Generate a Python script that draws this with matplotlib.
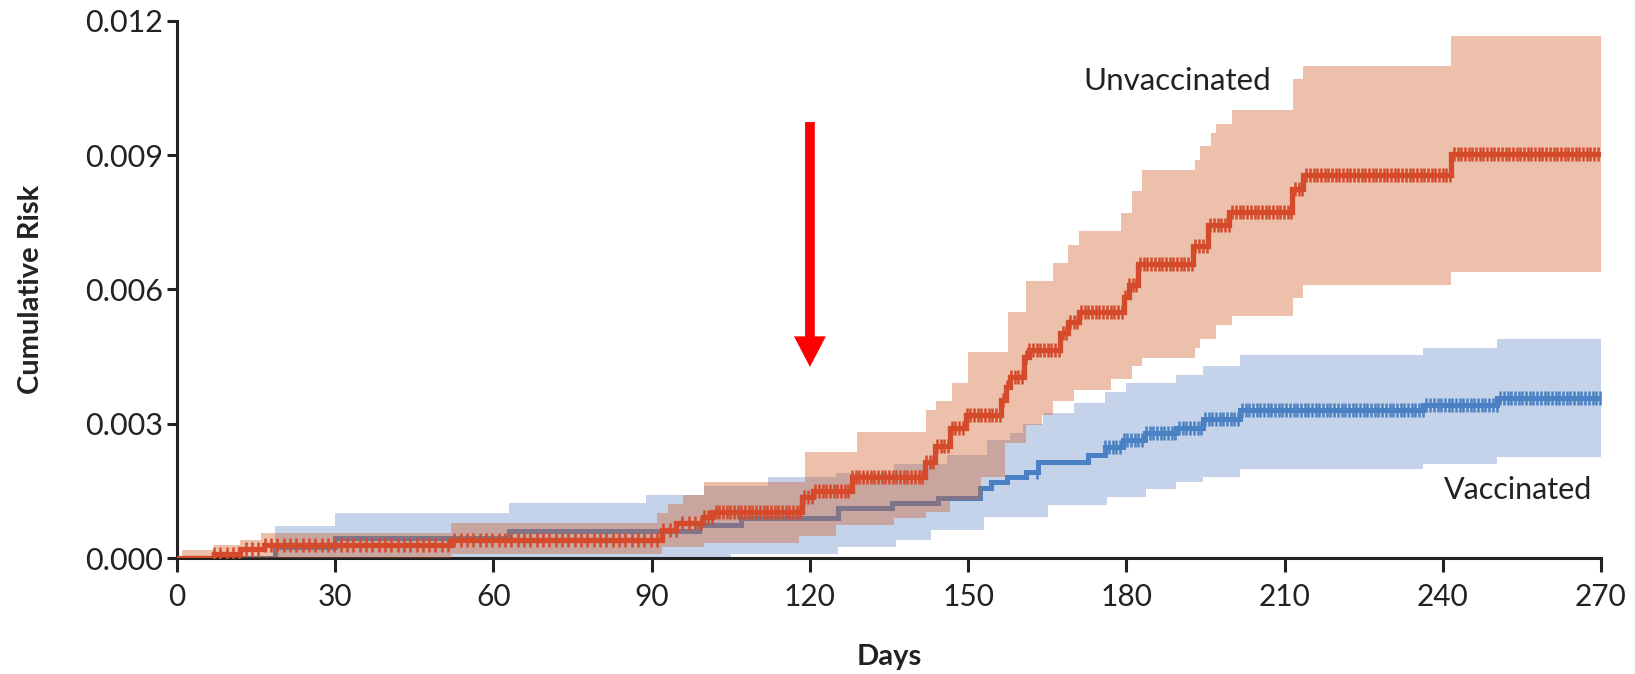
import numpy as np
import matplotlib.pyplot as plt

plt.rcParams['font.family'] = ['Lato', 'DejaVu Sans']

# ---- Unvaccinated: step change days and cumulative risk ----
unvax_days = [0, 7, 12, 16.4, 52, 92, 94.7, 99.8, 101.5, 118.5,
              120.5, 128, 141.8, 143.8, 146.5, 149.5, 156.2, 157.2, 158, 160.5,
              161.5, 167.5, 169, 171, 179.5, 180.5, 182.3, 192.7, 195.5, 199.5,
              211.5, 213.5, 241.5, 270]
unvax_risk = [0, 0.0001, 0.0002, 0.0003, 0.0004, 0.00063, 0.00078, 0.00092, 0.00103, 0.00137,
              0.0015, 0.00182, 0.00215, 0.0025, 0.0029, 0.0032, 0.00353, 0.00383, 0.00405, 0.0045,
              0.00465, 0.00502, 0.00528, 0.0055, 0.00584, 0.0061, 0.00658, 0.00697, 0.00744, 0.00772,
              0.00824, 0.00856, 0.00902, 0.00902]

unvax_hi_days = [0, 1, 7, 12, 16, 52, 91, 93, 96, 100,
                 119, 129, 142, 144, 147, 150, 157.5, 161, 166, 169,
                 171, 179, 181, 183, 193, 194, 196, 197, 200, 211.6,
                 213.5, 241.6, 270]
unvax_hi = [0, 0.00018, 0.0003, 0.0004, 0.00056, 0.00078, 0.001, 0.0012, 0.0014, 0.0017,
            0.00238, 0.00282, 0.0033, 0.0035, 0.0039, 0.0046, 0.0055, 0.0062, 0.0066, 0.0070,
            0.0073, 0.0077, 0.0082, 0.00867, 0.0089, 0.0092, 0.0095, 0.0097, 0.0100, 0.0107,
            0.0110, 0.01167, 0.01167]

unvax_lo_days = [0, 52, 92, 100, 118, 125, 136, 142, 146.5, 152.5,
                 157, 161, 164, 166, 170, 177, 181, 183, 193, 194,
                 197, 200, 211.6, 213.5, 241.6, 270]
unvax_lo = [0, 0.0001, 0.00025, 0.00033, 0.0005, 0.00074, 0.00089, 0.00103, 0.0013, 0.00182,
            0.00257, 0.00297, 0.0032, 0.0035, 0.00375, 0.0040, 0.0043, 0.00447, 0.0047, 0.0049,
            0.0052, 0.0054, 0.0058, 0.0061, 0.0064, 0.0064]

# ---- Vaccinated ----
vax_days = [0, 18.5, 30, 63, 99, 107, 125.3, 135.5, 144.3, 152.3,
            154.4, 157.3, 161, 163.2, 172.7, 176, 179.3, 183.6, 189.5, 194.6,
            201.5, 236.3, 250.2, 270]
vax_risk = [0, 0.00025, 0.00045, 0.0006, 0.00074, 0.00089, 0.00112, 0.00123, 0.00134, 0.00156,
            0.0017, 0.00182, 0.00193, 0.00215, 0.0023, 0.00249, 0.00264, 0.0028, 0.0029, 0.0031,
            0.0033, 0.00341, 0.00357, 0.00357]

vax_hi_days = [0, 18.5, 30, 63, 89, 100, 112, 125, 136, 146,
               153.5, 158, 160.4, 164.2, 170, 176, 180, 189.5, 194.6, 201.5,
               236.3, 250.2, 270]
vax_hi = [0, 0.00072, 0.001, 0.00123, 0.0014, 0.0016, 0.0018, 0.0019, 0.0021, 0.0023,
          0.00264, 0.0028, 0.0030, 0.00324, 0.00346, 0.0037, 0.0039, 0.0041, 0.0043, 0.00453,
          0.0047, 0.0049, 0.0049]

vax_lo_days = [0, 105, 125.4, 136.3, 142.9, 153.1, 165.1, 176.4, 183.7, 189.5,
               194.6, 201.5, 236.3, 250.2, 270]
vax_lo = [0, 0.0001, 0.00025, 0.0004, 0.00063, 0.00092, 0.00118, 0.00137, 0.00154, 0.0017,
          0.0018, 0.0020, 0.0021, 0.00226, 0.00226]

# censoring marks (where the tick marks run along each curve)
unvax_censor = np.concatenate([np.arange(7, 100, 1.2), np.arange(100, 270, 0.7)])
vax_censor = np.concatenate([[163], np.arange(176, 270, 0.7)])

x_ticks = [0, 30, 60, 90, 120, 150, 180, 210, 240, 270]
y_ticks = [0.0, 0.003, 0.006, 0.009, 0.012]

RED = '#D44A2A'
RED_BAND = '#D0622F'
BLUE = '#4A80C4'
BLUE_BAND = '#C5D3EA'


def step_at(days, vals, t):
    idx = np.searchsorted(days, t, side='right') - 1
    return np.asarray(vals)[np.clip(idx, 0, len(vals) - 1)]


def band(days_hi, hi, days_lo, lo):
    grid = np.unique(np.concatenate([days_hi, days_lo]))
    return grid, step_at(days_hi, hi, grid), step_at(days_lo, lo, grid)


fig = plt.figure(figsize=(16.35, 6.74), dpi=100)
ax = fig.add_axes([0.1083, 0.172, 0.8709, 0.797])

# vaccinated band + line (underneath the unvaccinated band)
g, hi, lo = band(vax_hi_days, vax_hi, vax_lo_days, vax_lo)
ax.fill_between(g, lo, hi, step='post', color=BLUE_BAND, lw=0, zorder=1)
ax.plot(vax_days, vax_risk, drawstyle='steps-post', color=BLUE, lw=3.6, zorder=2,
        solid_joinstyle='miter')
ax.plot(vax_censor, step_at(vax_days, vax_risk, vax_censor), ls='none', marker='|',
        ms=10, mew=1.8, color=BLUE, zorder=2)

# unvaccinated band + line
g, hi, lo = band(unvax_hi_days, unvax_hi, unvax_lo_days, unvax_lo)
ax.fill_between(g, lo, hi, step='post', color=RED_BAND, alpha=0.4, lw=0, zorder=3)
ax.plot(unvax_days, unvax_risk, drawstyle='steps-post', color=RED, lw=3.8, zorder=4,
        solid_joinstyle='miter')
ax.plot(unvax_censor, step_at(unvax_days, unvax_risk, unvax_censor), ls='none', marker='|',
        ms=10, mew=1.8, color=RED, zorder=4)

# arrow at day 120
ax.annotate('', xy=(120, 0.00427), xytext=(120, 0.00974),
            arrowprops=dict(facecolor='#FF0000', edgecolor='none', width=7,
                            headwidth=23, headlength=22, shrink=0), zorder=6)

ax.text(189.7, 0.01065, 'Unvaccinated', fontsize=22.5, color='#222222', ha='center', va='center')
ax.text(254.2, 0.00153, 'Vaccinated', fontsize=22, color='#222222', ha='center', va='center')

ax.set_xlim(0, 270)
ax.set_ylim(0, 0.012)
ax.set_xticks(x_ticks)
ax.set_xticklabels([str(v) for v in x_ticks])
ax.set_yticks(y_ticks)
ax.set_yticklabels([f'{v:.3f}' for v in y_ticks])

for s in ['top', 'right']:
    ax.spines[s].set_visible(False)
for s in ['left', 'bottom']:
    ax.spines[s].set_linewidth(2.2)
    ax.spines[s].set_color('#222222')
ax.tick_params(axis='x', direction='out', length=10, width=2.2, pad=8,
               labelsize=21.5, colors='#222222')
ax.tick_params(axis='y', direction='out', length=7, width=2.2, pad=3,
               labelsize=22, colors='#222222')

ax.set_xlabel('Days', fontsize=21, fontweight='bold', color='#222222', labelpad=24)
ax.set_ylabel('Cumulative Risk', fontsize=21, fontweight='bold', color='#222222', labelpad=30)

fig.savefig('out.png', dpi=100)
